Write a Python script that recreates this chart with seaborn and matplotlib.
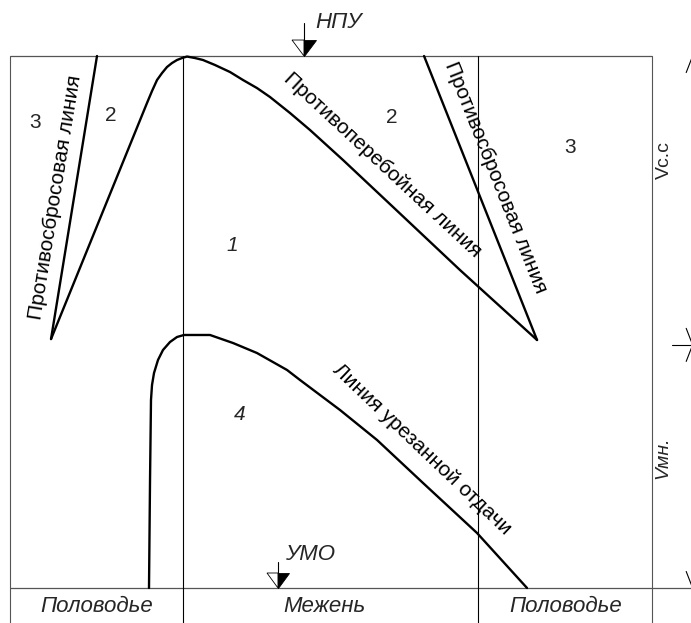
import math
import matplotlib
matplotlib.use("Agg")
import matplotlib.pyplot as plt
from matplotlib.patches import Polygon
from matplotlib.transforms import Affine2D, ScaledTranslation
import seaborn as sns

# Reservoir dispatch chart.
# Horizontal axis: time as a share of the water year, %.
# Vertical axis: storage between УМО (0) and НПУ (100), %.

season_bounds = [0.0, 26.95, 72.9, 100.0]
season_names = ["Половодье", "Межень", "Половодье"]
season_label_t = [13.55, 48.9, 86.6]

level_umo = 0.0
level_npu = 100.0
level_vmn = 45.7          # upper limit of the guaranteed (Vмн.) storage

# dispatch (anti-interruption) line
dispatch_t = [6.39, 21.34, 22.12, 22.90, 23.68, 24.45, 25.23, 26.01, 26.79, 27.57,
              28.82, 30.06, 31.93, 34.27, 36.29, 38.47, 40.50, 43.61, 46.73,
              51.87, 59.66, 70.09, 82.09]
dispatch_v = [46.80, 91.17, 93.42, 95.49, 96.80, 97.93, 98.68, 99.25, 99.62, 99.90,
              99.62, 99.25, 98.31, 96.99, 95.49, 93.98, 92.29, 89.29, 86.09,
              80.45, 71.62, 59.77, 46.62]

# anti-spill lines
spill_left_t = [6.39, 13.55]
spill_left_v = [46.80, 100.0]
spill_right_t = [64.49, 82.09]
spill_right_v = [100.0, 46.62]

# reduced-output line
reduced_t = [21.65, 21.81, 21.96, 22.12, 22.43, 23.05, 23.83, 24.92, 26.01, 27.10,
             31.15, 34.74, 38.47, 43.15, 45.17, 51.40, 57.17, 64.33, 72.74, 80.53]
reduced_v = [0.0, 20.30, 35.34, 38.16, 40.41, 42.86, 44.74, 46.24, 47.18, 47.56,
             47.56, 46.05, 44.17, 40.98, 39.10, 33.46, 27.82, 19.74, 10.34, 0.0]

# operating zones
zone_names = ["3", "2", "1", "2", "3", "4"]
zone_t = [3.89, 15.73, 34.58, 59.50, 87.23, 35.83]
zone_v = [87.41, 88.91, 64.29, 88.53, 82.71, 32.52]
zone_italic = [False, False, True, False, False, True]

FONT = ["Liberation Sans", "DejaVu Sans"]

sns.set_theme(style="white")
plt.rcParams["font.family"] = FONT

fig = plt.figure(figsize=(6.91, 6.23), dpi=100)
ax = fig.add_axes([0, 0, 1, 1])
ax.set_xlim(-1.558, 106.07)
ax.set_ylim(-6.58, 110.53)
ax.axis("off")

frame_kw = dict(color="#555555", lw=0.9, solid_capstyle="butt")
# top (НПУ) and bottom (УМО) lines
ax.plot([season_bounds[0], season_bounds[-1]], [level_npu, level_npu], **frame_kw)
ax.plot([season_bounds[0], 106.07], [level_umo, level_umo], **frame_kw)
# borders and season dividers
for i, b in enumerate(season_bounds):
    col = "#555555" if i in (0, len(season_bounds) - 1) else "black"
    ax.plot([b, b], [level_npu, -6.58], color=col, lw=0.8)

curve_kw = dict(ax=ax, color="black", lw=1.7, sort=False, estimator=None, legend=False)
sns.lineplot(x=dispatch_t, y=dispatch_v, **curve_kw)
sns.lineplot(x=spill_left_t, y=spill_left_v, **curve_kw)
sns.lineplot(x=spill_right_t, y=spill_right_v, **curve_kw)
sns.lineplot(x=reduced_t, y=reduced_v, **curve_kw)


def slope_deg(t0, v0, t1, v1):
    p0 = ax.transData.transform((t0, v0))
    p1 = ax.transData.transform((t1, v1))
    return math.degrees(math.atan2(p1[1] - p0[1], p1[0] - p0[0]))


line_fs = 15
txt_kw = dict(ha="center", va="center", rotation_mode="anchor", fontsize=line_fs,
              color="black")
ax.text(7.1, 73.4, "Противосбросовая линия",
        rotation=slope_deg(spill_left_t[0], spill_left_v[0], spill_left_t[1], spill_left_v[1]),
        **txt_kw)
ax.text(75.7, 77.1, "Противосбросовая линия",
        rotation=slope_deg(spill_right_t[0], spill_right_v[0], spill_right_t[1], spill_right_v[1]),
        **txt_kw)
ax.text(58.0, 79.5, "Противоперебойная линия",
        rotation=slope_deg(dispatch_t[-4], dispatch_v[-4], dispatch_t[-1], dispatch_v[-1]),
        **txt_kw)
ax.text(64.1, 26.1, "Линия урезанной отдачи",
        rotation=slope_deg(reduced_t[-5], reduced_v[-5], reduced_t[-1], reduced_v[-1]),
        **txt_kw)

for name, t, v, it in zip(zone_names, zone_t, zone_v, zone_italic):
    ax.text(t, v, name, ha="center", va="center", fontsize=15,
            style="italic" if it else "normal")

# season captions under the chart
for name, t in zip(season_names, season_label_t):
    ax.text(t, -3.57, name, ha="center", va="center", fontsize=16, style="italic")


def level_mark(t, v, label, half_w, h, stem, label_dx, label_dy):
    tr = Affine2D() + ScaledTranslation(t, v, ax.transData)
    ax.add_patch(Polygon([(0, 0), (-half_w, h), (0, h)], closed=True, facecolor="white",
                         edgecolor="black", lw=0.6, transform=tr))
    ax.add_patch(Polygon([(0, 0), (0, h), (half_w, h)], closed=True, facecolor="black",
                         edgecolor="black", lw=0.6, transform=tr))
    ax.plot([0, 0], [0, stem], color="black", lw=0.8, transform=tr)
    ax.text(label_dx, label_dy, label, transform=tr, ha="left", va="center",
            fontsize=16, style="italic")


level_mark(45.79, level_npu, "НПУ", 12, 16, 33, 11, 34)
level_mark(41.74, level_umo, "УМО", 11, 15, 26, 7, 33)

# storage dimension on the right
x_dim = 106.23
for v_top, v_bot in [(level_npu, level_vmn), (level_vmn, level_umo)]:
    ax.annotate("", xy=(x_dim, v_top), xytext=(x_dim, v_bot), annotation_clip=False,
                arrowprops=dict(arrowstyle="<->,head_length=0.9,head_width=0.35",
                                lw=0.8, color="black", shrinkA=0, shrinkB=0))
ax.plot([103.12, 107.0], [level_vmn, level_vmn], color="black", lw=0.8, clip_on=False)
ax.text(102.0, 80.45, "Vc.c", rotation=90, ha="center", va="center", fontsize=14)
ax.text(101.7, 24.4, "Vмн.", rotation=90, ha="center", va="center", fontsize=14,
        style="italic")

fig.savefig("out.png", dpi=100)
